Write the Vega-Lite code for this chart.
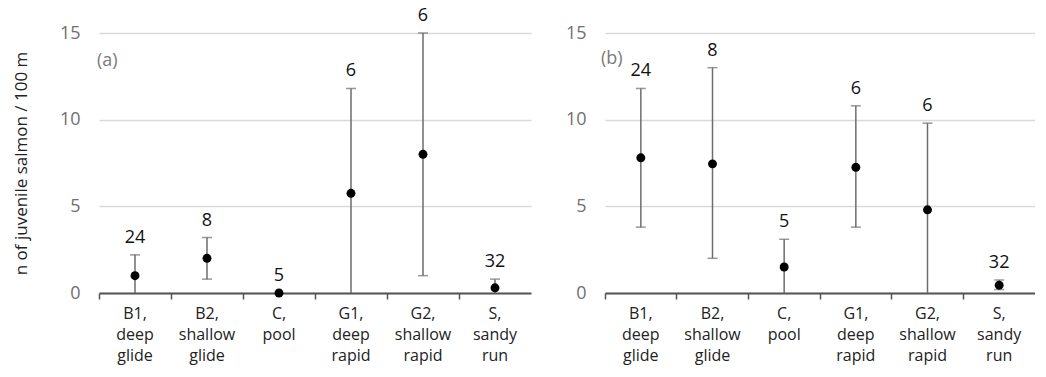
{
  "$schema": "https://vega.github.io/schema/vega-lite/v6.json",
  "padding": {"left": 12, "top": 7, "right": 0, "bottom": 12},
  "config": {"view": {"stroke": null}, "font": "Open Sans", "concat": {"spacing": 34}},
  "datasets": {
    "a": [
      {"habitat": "B1, deep glide", "mean": 1.0, "lower": 0, "upper": 2.2, "n": 24},
      {"habitat": "B2, shallow glide", "mean": 2.0, "lower": 0.8, "upper": 3.2, "n": 8},
      {"habitat": "C, pool", "mean": 0.0, "lower": 0, "upper": 0, "n": 5},
      {"habitat": "G1, deep rapid", "mean": 5.75, "lower": 0, "upper": 11.8, "n": 6},
      {"habitat": "G2, shallow rapid", "mean": 8.0, "lower": 1.0, "upper": 15.0, "n": 6},
      {"habitat": "S, sandy run", "mean": 0.3, "lower": 0, "upper": 0.8, "n": 32}
    ],
    "b": [
      {"habitat": "B1, deep glide", "mean": 7.8, "lower": 3.8, "upper": 11.8, "n": 24},
      {"habitat": "B2, shallow glide", "mean": 7.45, "lower": 2.0, "upper": 13.0, "n": 8},
      {"habitat": "C, pool", "mean": 1.5, "lower": 0, "upper": 3.1, "n": 5},
      {"habitat": "G1, deep rapid", "mean": 7.25, "lower": 3.8, "upper": 10.8, "n": 6},
      {"habitat": "G2, shallow rapid", "mean": 4.8, "lower": 0, "upper": 9.8, "n": 6},
      {"habitat": "S, sandy run", "mean": 0.45, "lower": 0.2, "upper": 0.75, "n": 32}
    ]
  },
  "hconcat": [
    {
      "width": 432,
      "height": 260,
      "data": {"name": "a"},
      "encoding": {
        "x": {
          "field": "habitat", "type": "nominal", "sort": null,
          "scale": {"paddingInner": 0, "paddingOuter": 0},
          "axis": {"title": null, "domainColor": "#555555", "domainWidth": 2, "tickColor": "#555555", "tickWidth": 1.5, "tickSize": 6, "bandPosition": 0, "labelAngle": 0, "labelFontSize": 16, "labelColor": "#222222", "labelLineHeight": 21, "labelPadding": 6, "labelBaseline": "top", "labelExpr": "split(datum.label, ' ')"}
        }
      },
      "layer": [
        {
          "mark": {"type": "rule", "color": "#6d6d6d", "strokeWidth": 1.5},
          "encoding": {
            "y": {"field": "lower", "type": "quantitative", "scale": {"domain": [0, 15], "nice": false},
              "axis": {"values": [0, 5, 10, 15], "grid": true, "gridColor": "#d9d9d9", "gridWidth": 1.5, "domain": false, "ticks": false, "labelPadding": 19, "labelFontSize": 18, "labelColor": "#707070", "title": "n of juvenile salmon / 100 m", "titleFontSize": 17, "titleFontWeight": "normal", "titleColor": "#222222", "titlePadding": 29}},
            "y2": {"field": "upper"}
          }
        },
        {
          "transform": [{"filter": "datum.upper > 0"}],
          "mark": {"type": "tick", "orient": "horizontal", "size": 10, "thickness": 1.5, "color": "#6d6d6d"},
          "encoding": {"y": {"field": "upper", "type": "quantitative"}}
        },
        {
          "transform": [{"filter": "datum.lower > 0"}],
          "mark": {"type": "tick", "orient": "horizontal", "size": 10, "thickness": 1.5, "color": "#6d6d6d"},
          "encoding": {"y": {"field": "lower", "type": "quantitative"}}
        },
        {
          "mark": {"type": "point", "filled": true, "size": 80, "color": "#000000", "opacity": 1},
          "encoding": {"y": {"field": "mean", "type": "quantitative"}}
        },
        {
          "mark": {"type": "text", "dy": -17, "fontSize": 18, "color": "#111111"},
          "encoding": {"y": {"field": "upper", "type": "quantitative"}, "text": {"field": "n"}}
        },
        {
          "data": {"values": [{"t": "(a)"}]},
          "mark": {"type": "text", "align": "left", "dx": -2, "fontSize": 18, "color": "#7a7a7a"},
          "encoding": {
            "x": {"datum": "B1, deep glide", "bandPosition": 0},
            "y": {"datum": 13.4, "type": "quantitative"},
            "text": {"field": "t"}
          }
        }
      ]
    },
    {
      "width": 430,
      "height": 260,
      "data": {"name": "b"},
      "encoding": {
        "x": {
          "field": "habitat", "type": "nominal", "sort": null,
          "scale": {"paddingInner": 0, "paddingOuter": 0},
          "axis": {"title": null, "domainColor": "#555555", "domainWidth": 2, "tickColor": "#555555", "tickWidth": 1.5, "tickSize": 6, "bandPosition": 0, "labelAngle": 0, "labelFontSize": 16, "labelColor": "#222222", "labelLineHeight": 21, "labelPadding": 6, "labelBaseline": "top", "labelExpr": "split(datum.label, ' ')"}
        }
      },
      "layer": [
        {
          "mark": {"type": "rule", "color": "#6d6d6d", "strokeWidth": 1.5},
          "encoding": {
            "y": {"field": "lower", "type": "quantitative", "scale": {"domain": [0, 15], "nice": false},
              "axis": {"values": [0, 5, 10, 15], "grid": true, "gridColor": "#d9d9d9", "gridWidth": 1.5, "domain": false, "ticks": false, "labelPadding": 19, "labelFontSize": 18, "labelColor": "#707070", "title": null}},
            "y2": {"field": "upper"}
          }
        },
        {
          "transform": [{"filter": "datum.upper > 0"}],
          "mark": {"type": "tick", "orient": "horizontal", "size": 10, "thickness": 1.5, "color": "#6d6d6d"},
          "encoding": {"y": {"field": "upper", "type": "quantitative"}}
        },
        {
          "transform": [{"filter": "datum.lower > 0"}],
          "mark": {"type": "tick", "orient": "horizontal", "size": 10, "thickness": 1.5, "color": "#6d6d6d"},
          "encoding": {"y": {"field": "lower", "type": "quantitative"}}
        },
        {
          "mark": {"type": "point", "filled": true, "size": 80, "color": "#000000", "opacity": 1},
          "encoding": {"y": {"field": "mean", "type": "quantitative"}}
        },
        {
          "mark": {"type": "text", "dy": -17, "fontSize": 18, "color": "#111111"},
          "encoding": {"y": {"field": "upper", "type": "quantitative"}, "text": {"field": "n"}}
        },
        {
          "data": {"values": [{"t": "(b)"}]},
          "mark": {"type": "text", "align": "left", "dx": -4, "fontSize": 18, "color": "#7a7a7a"},
          "encoding": {
            "x": {"datum": "B1, deep glide", "bandPosition": 0},
            "y": {"datum": 13.5, "type": "quantitative"},
            "text": {"field": "t"}
          }
        }
      ]
    }
  ]
}
